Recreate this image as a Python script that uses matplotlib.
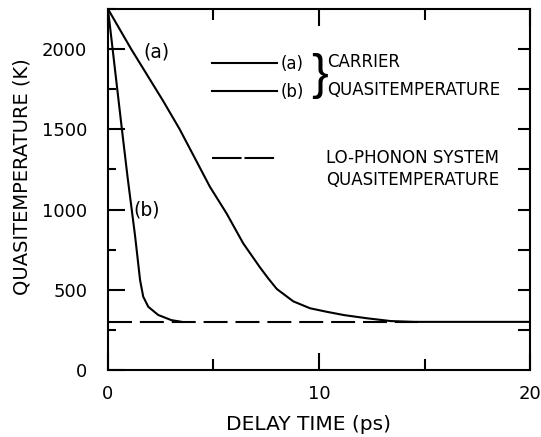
import numpy as np
import matplotlib.pyplot as plt
from matplotlib.lines import Line2D
from matplotlib.ticker import MultipleLocator

# carrier quasitemperature, curve (a)
t_a = [0, 1.1, 2.6, 3.4, 4.83, 5.62, 6.41, 7.2, 7.6, 8.0, 8.78, 9.57, 10.36,
       11.2, 12.3, 13.4, 14.5, 20]
T_a = [2250, 2000, 1680, 1500, 1142, 976, 789, 640, 570, 505, 428, 385, 363,
       342, 322, 305, 300, 300]

# carrier quasitemperature, curve (b)
t_b = [0, 0.22, 0.66, 0.93, 1.28, 1.52, 1.67, 1.91, 2.38, 3.0, 3.5]
T_b = [2250, 2000, 1500, 1200, 840, 561, 457, 394, 343, 311, 300]

# LO-phonon system quasitemperature
t_lo = [0, 14.7]
T_lo = [300, 300]

lw = 1.5
fig = plt.figure(figsize=(5.41, 4.37), dpi=100)
ax = fig.add_axes([0.1996, 0.1533, 0.7801, 0.8261])

line_a, = ax.plot(t_a, T_a, color='black', lw=lw)
line_b, = ax.plot(t_b, T_b, color='black', lw=lw)
ax.plot(t_lo, T_lo, color='black', lw=lw, dashes=(11.5, 3.8))

ax.set_xlim(0, 20)
ax.set_ylim(0, 2250)
ax.set_xticks([0, 10, 20])
ax.xaxis.set_minor_locator(MultipleLocator(5))
ax.set_yticks([0, 500, 1000, 1500, 2000])
ax.yaxis.set_minor_locator(MultipleLocator(250))
for s in ax.spines.values():
    s.set_linewidth(lw)

ax.tick_params(which='both', direction='in', width=lw, labelsize=13)
ax.tick_params(axis='y', which='major', length=12, pad=15)
ax.tick_params(axis='y', which='minor', length=6)
ax.tick_params(axis='x', which='major', length=12, pad=11, top=True)
ax.tick_params(axis='x', which='minor', length=8, top=True)

# right side ticks every 250 K, all same length
axr = ax.twinx()
axr.set_ylim(0, 2250)
axr.set_yticks(np.arange(250, 2250, 250))
axr.tick_params(direction='in', length=9, width=lw, labelright=False)
for s in axr.spines.values():
    s.set_visible(False)

fig.text(308 / 541, 1 - 424 / 437, 'DELAY TIME (ps)', fontsize=14.5,
         ha='center', va='center')
fig.text(22 / 541, 1 - 177 / 437, 'QUASITEMPERATURE (K)', fontsize=14,
         ha='center', va='center', rotation=90)

# curve labels
ax.text(1.66, 1980, '(a)', fontsize=13.5, ha='left', va='center')
ax.text(1.18, 997, '(b)', fontsize=13.5, ha='left', va='center')

# key
leg1 = ax.legend([line_a, line_b], ['(a)', '(b)'], loc='upper left',
                 bbox_to_anchor=(0.247, 0.872), frameon=False, fontsize=12,
                 handlelength=3.9, handletextpad=0.2, labelspacing=0.6,
                 borderpad=0, borderaxespad=0)
ax.add_artist(leg1)
lo_handle = Line2D([], [], color='black', lw=lw, dashes=(14.2, 1.4))
ax.legend([lo_handle], ['LO-PHONON SYSTEM'], loc='upper left',
          bbox_to_anchor=(0.247, 0.611), frameon=False, fontsize=12,
          handlelength=3.85, handletextpad=3.0, borderpad=0, borderaxespad=0)
ax.text(0.518, 0.526, 'QUASITEMPERATURE', transform=ax.transAxes,
        fontsize=12, ha='left', va='center')
ax.text(0.481, 0.815, '}', transform=ax.transAxes, fontsize=36,
        ha='left', va='center', family='Liberation Sans')
ax.text(0.52, 0.853, 'CARRIER', transform=ax.transAxes, fontsize=12,
        ha='left', va='center')
ax.text(0.52, 0.775, 'QUASITEMPERATURE', transform=ax.transAxes,
        fontsize=12, ha='left', va='center')

fig.savefig('out.png', dpi=100)
